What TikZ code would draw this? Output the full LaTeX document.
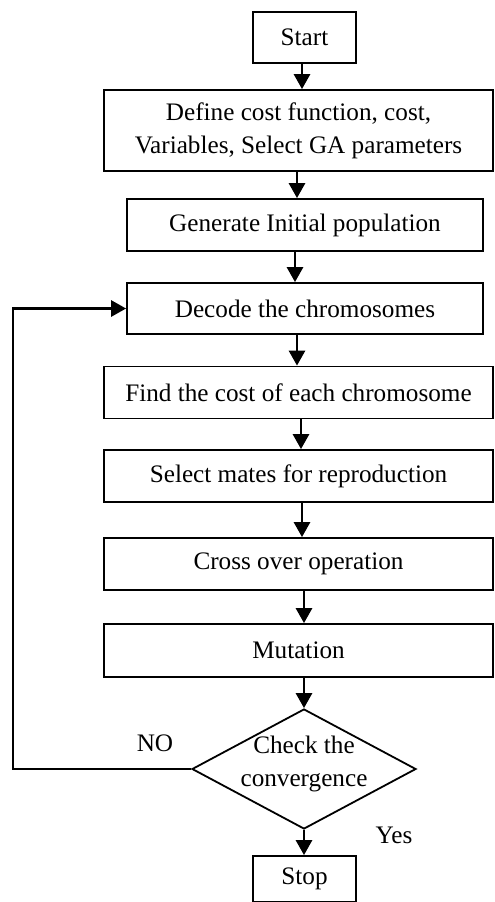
\documentclass[tikz,border=0pt]{standalone}
\usepackage{fontspec}
\setmainfont{Liberation Serif}
\usetikzlibrary{shapes.geometric,arrows.meta}
\begin{document}
\begin{tikzpicture}[x=0.5pt,y=-0.5pt,
  txt/.style={font=\fontsize{12.6}{16.5}\selectfont, align=center, inner sep=0pt},
  box/.style={txt, draw, line width=0.9pt, rectangle},
  arr/.style={line width=1.4pt, -{Triangle[width=8pt,length=7.5pt]}},
]
\useasboundingbox (0,0) rectangle (494,902);
\node[box, minimum width=51.5pt, minimum height=25.5pt] (start) at (304.5,37.5) {Start};
\node[box, minimum width=194.5pt, minimum height=40.5pt] (define) at (298.5,130.5) {Define cost function, cost,\\Variables, Select GA parameters};
\node[box, minimum width=178pt, minimum height=26pt] (generate) at (305,225) {Generate Initial population};
\node[box, minimum width=178pt, minimum height=25.5pt] (decode) at (305,308.5) {Decode the chromosomes};
\node[box, minimum width=194.5pt, minimum height=26pt] (find) at (298.5,392.5) {Find the cost of each chromosome};
\node[box, minimum width=194.5pt, minimum height=26pt] (select) at (298.5,476) {Select mates for reproduction};
\node[box, minimum width=194.5pt, minimum height=26pt] (cross) at (298.5,564) {Cross over operation};
\node[box, minimum width=194.5pt, minimum height=26.5pt] (mutation) at (298.5,650.5) {Mutation};
\node[diamond, draw, line width=0.9pt, minimum width=112pt, minimum height=60pt, inner sep=0pt, aspect=1.87] (check) at (304,769) {};
\node[txt] (checktext) at (304,764) {Check the\\convergence};
\node[box, minimum width=51.5pt, minimum height=23pt] (stop) at (304.5,879) {Stop};
\node[txt] (no) at (155,743) {NO};
\node[txt] (yes) at (394,835) {Yes};
\coordinate (loopc) at (13,769);

\draw[arr] (start.south -| 302,0) -- (define.north -| 302,0);
\draw[arr] (define.south -| 297,0) -- (generate.north -| 297,0);
\draw[arr] (generate.south -| 295,0) -- (decode.north -| 295,0);
\draw[arr] (decode.south -| 297,0) -- (find.north -| 297,0);
\draw[arr] (find.south -| 301,0) -- (select.north -| 301,0);
\draw[arr] (select.south -| 302,0) -- (cross.north -| 302,0);
\draw[arr] (cross.south -| 304,0) -- (mutation.north -| 304,0);
\draw[arr] (mutation.south -| 304,0) -- (check.north);
\draw[arr] (check.south) -- (stop.north -| 304,0);
\draw[arr] (check.west) -- (loopc) |- (decode.west);
\end{tikzpicture}
\end{document}
